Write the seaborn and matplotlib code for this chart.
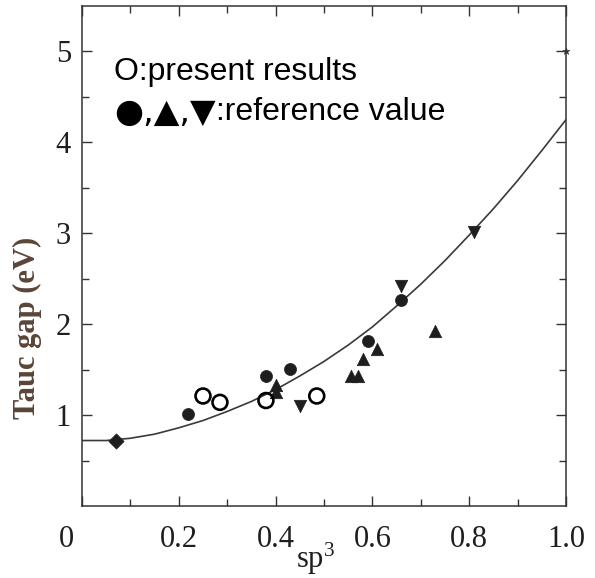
import matplotlib
matplotlib.use("Agg")
import matplotlib.pyplot as plt
import matplotlib.transforms as mtransforms
import numpy as np
import pandas as pd
import seaborn as sns


# ===== DATA =====
present_sp3 = [0.25, 0.285, 0.38, 0.485]
present_gap = [1.21, 1.14, 1.16, 1.21]

ref_circle_sp3 = [0.22, 0.38, 0.43, 0.59, 0.66]
ref_circle_gap = [1.01, 1.43, 1.51, 1.82, 2.27]

ref_up_sp3 = [0.40, 0.40, 0.555, 0.57, 0.58, 0.61, 0.73]
ref_up_gap = [1.33, 1.25, 1.43, 1.43, 1.62, 1.73, 1.93]

ref_down_sp3 = [0.45, 0.66, 0.81]
ref_down_gap = [1.10, 2.42, 3.01]

diamond_sp3 = [0.07]
diamond_gap = [0.72]

edge_sp3 = [1.0]
edge_gap = [5.0]

# fitted trend line
curve_sp3 = [0.00, 0.05, 0.10, 0.15, 0.20, 0.25, 0.30, 0.35, 0.40, 0.45, 0.50,
             0.55, 0.60, 0.65, 0.70, 0.75, 0.80, 0.85, 0.90, 0.95, 1.00]
curve_gap = [0.72, 0.72, 0.745, 0.79, 0.86, 0.94, 1.04, 1.15, 1.28, 1.43, 1.59,
             1.77, 1.97, 2.20, 2.44, 2.70, 2.98, 3.27, 3.58, 3.91, 4.25]

x_ticks = [0, 0.2, 0.4, 0.6, 0.8, 1.0]
x_tick_labels = ["0", "0.2", "0.4", "0.6", "0.8", "1.0"]
y_ticks = [1, 2, 3, 4, 5]
y_tick_labels = ["1", "2", "3", "4", "5"]

legend_line1 = "O:present results"
legend_symbols = "\u25cf,\u25b2,\u25bc"
legend_line2 = ":reference value"


# ===== PLOT =====
sns.set_theme(style="ticks")
plt.rcParams["font.family"] = ["Liberation Serif", "DejaVu Serif"]
plt.rcParams["mathtext.fontset"] = "custom"
plt.rcParams["mathtext.rm"] = "Liberation Serif"
plt.rcParams["mathtext.default"] = "rm"

ink = "#1e1e1e"
frame = "#333333"

fig = plt.figure(figsize=(5.95, 5.78), dpi=100)
ax = fig.add_axes([0.1378, 0.1246, 0.8135, 0.865])

curve = pd.DataFrame({"sp3": curve_sp3, "gap": curve_gap})
sns.lineplot(data=curve, x="sp3", y="gap", color="#3a3a3a", linewidth=1.2, ax=ax)

sns.scatterplot(x=ref_circle_sp3, y=ref_circle_gap, marker="o", s=75,
                color=ink, edgecolor=ink, linewidth=0.5, ax=ax, zorder=3)
sns.scatterplot(x=ref_up_sp3, y=ref_up_gap, marker="^", s=80,
                color=ink, edgecolor=ink, linewidth=0.5, ax=ax, zorder=3)
sns.scatterplot(x=ref_down_sp3, y=ref_down_gap, marker="v", s=80,
                color=ink, edgecolor=ink, linewidth=0.5, ax=ax, zorder=3)
sns.scatterplot(x=diamond_sp3, y=diamond_gap, marker="D", s=60,
                color=ink, edgecolor=ink, linewidth=0.5, ax=ax, zorder=3)
sns.scatterplot(x=present_sp3, y=present_gap, marker="o", s=115,
                facecolors="none", edgecolor="black", linewidth=1.9, ax=ax, zorder=4)
sns.scatterplot(x=edge_sp3, y=edge_gap, marker="*", s=30,
                color=frame, edgecolor=frame, linewidth=0.3, ax=ax,
                zorder=4, clip_on=False)

ax.set_xlim(0, 1.0)
ax.set_ylim(0, 5.5)

ax.set_xticks(x_ticks)
ax.set_xticklabels(x_tick_labels)
ax.set_xticks(np.arange(0.1, 1.0, 0.2), minor=True)
ax.set_yticks(y_ticks)
ax.set_yticklabels(y_tick_labels)
ax.set_yticks(np.arange(0.5, 5.5, 1.0), minor=True)

ax.tick_params(which="both", direction="in", top=True, right=True,
               color=frame, width=1.0, labelcolor=ink, labelsize=22)
ax.tick_params(which="major", length=7.5)
ax.tick_params(which="minor", length=5)
ax.tick_params(axis="x", which="major", pad=14)
ax.tick_params(axis="y", which="major", pad=8)

# the "0" under the corner sits left of the axis origin
zero_label = ax.get_xticklabels()[0]
zero_label.set_transform(zero_label.get_transform()
                         + mtransforms.ScaledTranslation(-16 / 100, 0, fig.dpi_scale_trans))

for side in ["left", "right", "top", "bottom"]:
    ax.spines[side].set_color(frame)
    ax.spines[side].set_linewidth(1.1)

ax.set_xlabel("sp$^3$", fontsize=22, color=ink)
ax.xaxis.set_label_coords(0.483, -0.07)
ax.set_ylabel("Tauc gap (eV)", fontsize=22, fontweight="bold", color="#5a4538")
ax.yaxis.set_label_coords(-0.083, 0.356)

sans = ["Liberation Sans", "DejaVu Sans"]
ax.text(0.066, 4.77, legend_line1, family=sans, fontsize=23, color="black", va="center")
symbols = ax.text(0.066, 4.33, legend_symbols, family=["DejaVu Sans"], fontsize=24,
                  color="black", va="center")
ax.annotate(legend_line2, xy=(1, 0.5), xycoords=symbols, family=sans, fontsize=23,
            color="black", va="center", ha="left")

fig.savefig("out.png", dpi=100)
